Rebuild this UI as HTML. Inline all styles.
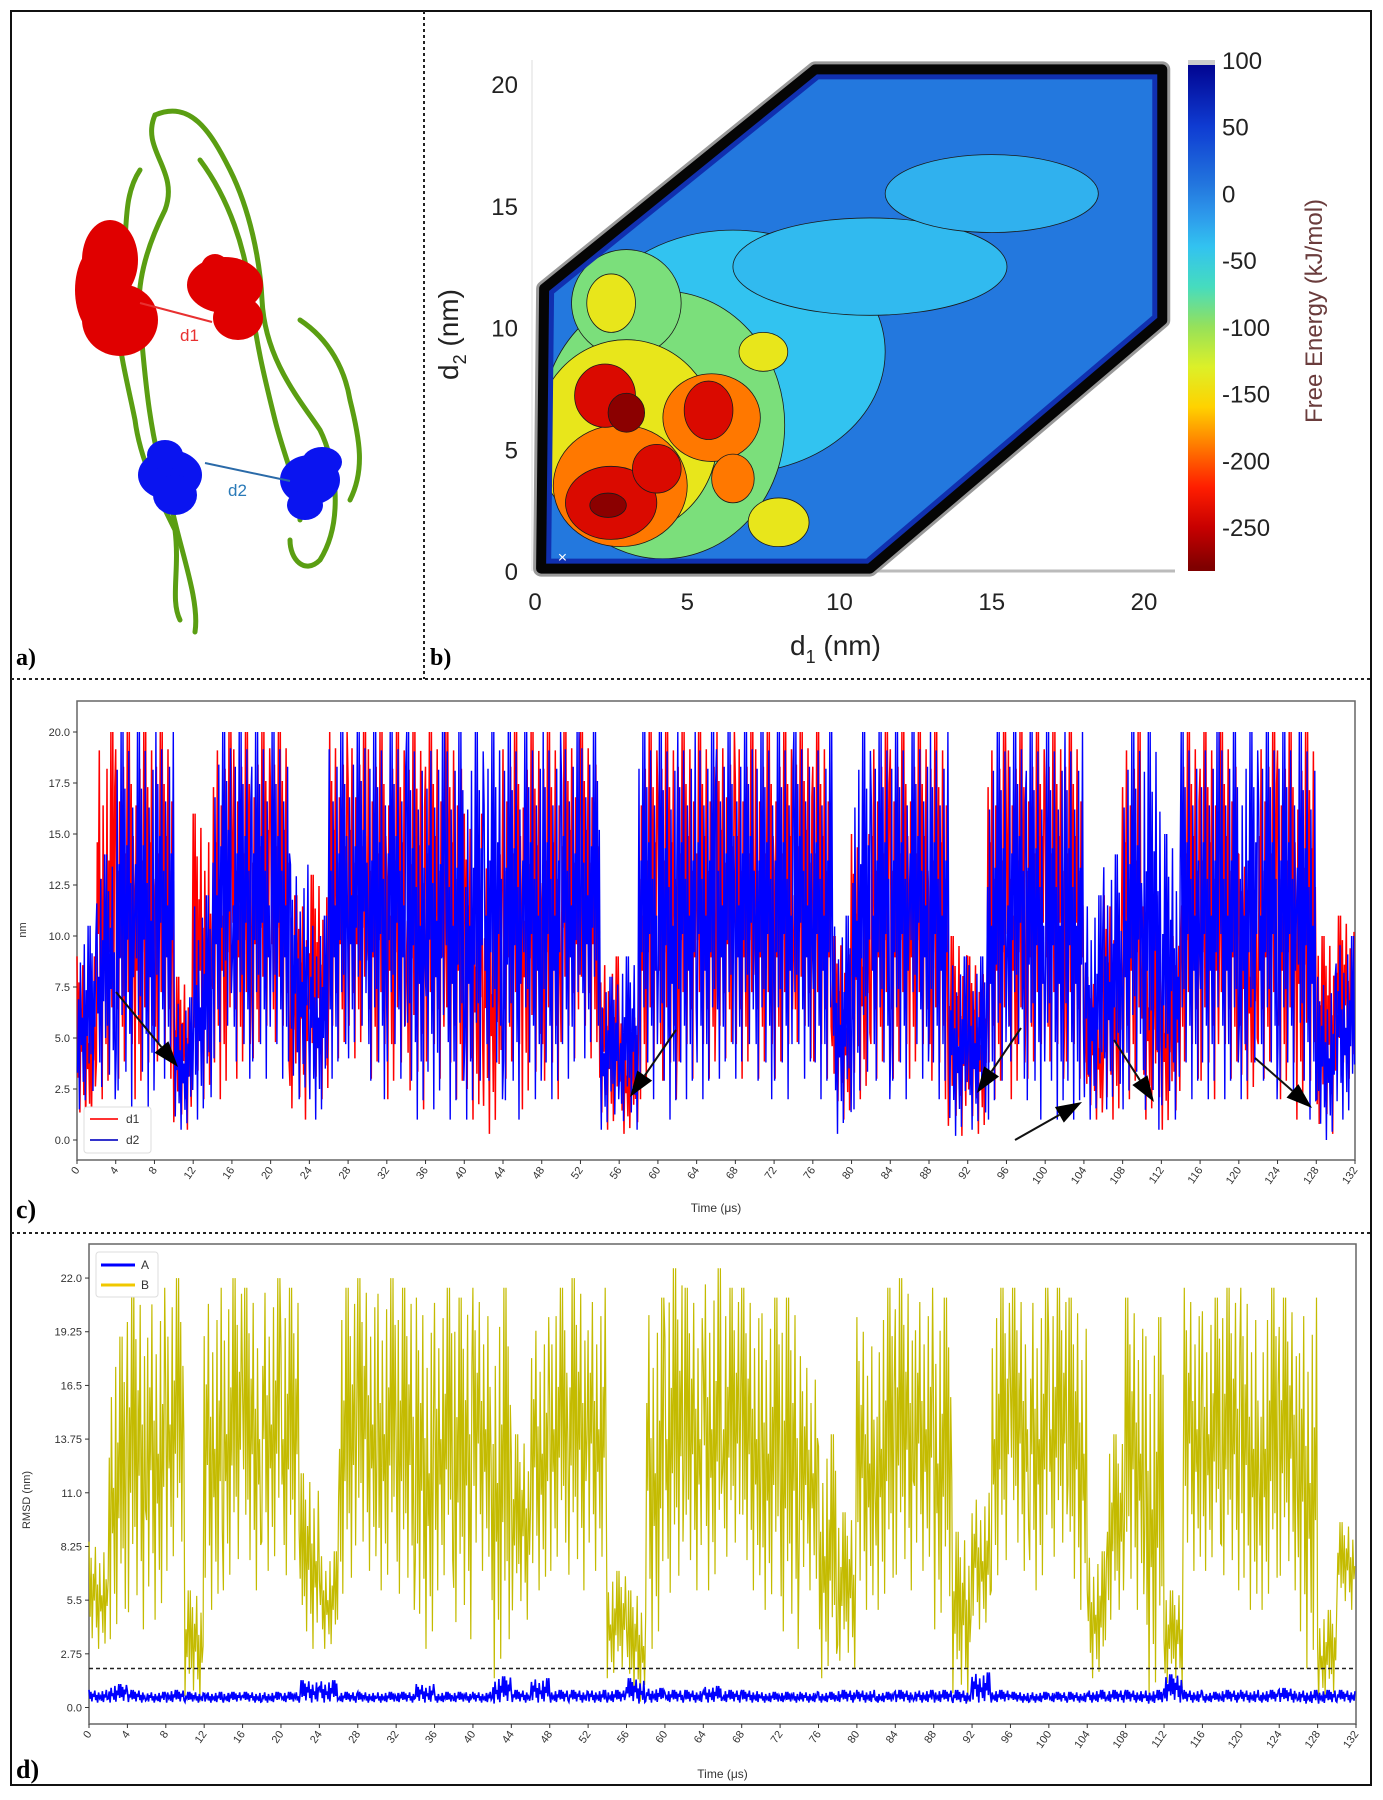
<!DOCTYPE html>
<html><head><meta charset="utf-8"><style>
html,body{margin:0;padding:0;background:#fff;}
svg{display:block;font-family:"Liberation Sans",sans-serif;}
</style></head><body>
<svg id="fig" width="1383" height="1800" viewBox="0 0 1383 1800" xmlns="http://www.w3.org/2000/svg">
<rect x="11" y="11" width="1360" height="1774" fill="#fff" stroke="#111" stroke-width="2"/>
<line x1="11" y1="679" x2="1371" y2="679" stroke="#222" stroke-width="2" stroke-dasharray="3,3"/>
<line x1="11" y1="1233" x2="1371" y2="1233" stroke="#222" stroke-width="2" stroke-dasharray="3,3"/>
<line x1="424" y1="11" x2="424" y2="679" stroke="#222" stroke-width="2" stroke-dasharray="3,3"/>

<!-- panel a -->
<g fill="none" stroke="#5a9e12" stroke-width="5" stroke-linecap="round">
<path d="M155 115 C140 150 180 170 165 210 C150 240 135 280 140 320 C145 380 150 440 170 500 C180 550 200 600 195 632"/>
<path d="M155 115 C190 100 210 130 230 170 C250 210 260 260 262 300 C265 360 300 400 320 430 C335 460 345 520 320 560 C305 575 290 560 290 540"/>
<path d="M140 170 C120 200 130 240 120 270 C110 320 125 370 135 420 C140 460 160 500 175 530 C180 570 170 600 180 620"/>
<path d="M200 160 C230 200 245 250 250 290 C255 340 265 380 275 420 C285 460 300 490 300 520"/>
<path d="M300 320 C330 340 345 370 350 400 C360 440 365 470 350 500"/>
</g>
<g fill="#e00000">
<ellipse cx="110" cy="260" rx="28" ry="40"/><ellipse cx="120" cy="320" rx="38" ry="36"/><ellipse cx="100" cy="290" rx="25" ry="45"/>
<ellipse cx="225" cy="285" rx="38" ry="28"/><ellipse cx="238" cy="318" rx="25" ry="22"/><ellipse cx="215" cy="268" rx="14" ry="14"/>
</g>
<line x1="140" y1="303" x2="212" y2="322" stroke="#e83030" stroke-width="2"/>
<text x="180" y="341" font-size="17" fill="#e83030">d1</text>
<g fill="#0a14f0">
<ellipse cx="170" cy="475" rx="32" ry="25"/><ellipse cx="175" cy="495" rx="22" ry="20"/><ellipse cx="165" cy="455" rx="18" ry="15"/>
<ellipse cx="310" cy="480" rx="30" ry="25"/><ellipse cx="305" cy="505" rx="18" ry="15"/><ellipse cx="322" cy="462" rx="20" ry="15"/>
</g>
<line x1="205" y1="463" x2="290" y2="481" stroke="#2a6aa8" stroke-width="2"/>
<text x="228" y="496" font-size="17" fill="#2a7ab8">d2</text>
<text x="16" y="665" font-size="24" font-family="Liberation Serif,serif" font-weight="bold">a)</text>

<!-- panel b -->
<g id="pb"></g>
<text x="430" y="665" font-size="24" font-family="Liberation Serif,serif" font-weight="bold">b)</text>

<!-- panel c -->
<g id="pc"></g>
<text x="16" y="1218" font-size="26" font-family="Liberation Serif,serif" font-weight="bold">c)</text>

<!-- panel d -->
<g id="pd"></g>
<text x="16" y="1778" font-size="26" font-family="Liberation Serif,serif" font-weight="bold">d)</text>
</svg>
<script>
// ---------- panel c data (per 2 µs bin) ----------
const cBins = 66;
const d1Hi = [9,20,20,20,20,8,16,20,20,20,20,12,13,20,20,20,20,20,20,20,16,14,20,20,20,20,20,9,6,20,20,20,20,20,20,20,20,20,20,10,15,20,20,20,20,10,9,20,20,20,20,20,8,12,20,12,10,20,20,20,14,20,20,20,10,11];
const d1Lo = [0.5,2,3,2,3,0.5,2,2,3,4,4,1,2,4,4,3,2,1.5,3,2,1,0.3,3,1.5,2,4,4,0.5,0.3,2,2,3,3,4,3,3,3,4,3,1,2,3,3,3,2,0.2,0.3,2,2,3,3,3,1,1,2,1,0.5,3,2,3,2,3,2,1,0.3,3];
const d2Hi = [10.5,14,20,20,20,7,12,20,20,20,20,13.5,11,20,20,20,20,20,20,20,20,20,20,20,20,20,20,8,9,20,20,20,20,20,20,20,20,20,20,11,20,20,20,20,20,9,9,20,20,20,20,20,12,14,20,20,15,20,20,20,20,20,20,20,8,10];
const d2Lo = [1.5,2,1.5,1.5,3,0.5,1,4,3,3,3,2,1,3,4,2,3,1,1.5,1,1,2,1,2,2,3,4,0.5,0.5,2,1,2,2,3,3,2,2,3,2,0.3,1.5,2,2,3,2,0.2,0.5,1,3,1,1,1,1,1.5,1.5,0.5,1,2,2,2,2,2,2,1,0,1];
const cXTicks = [0,4,8,12,16,20,24,28,32,36,40,44,48,52,56,60,64,68,72,76,80,84,88,92,96,100,104,108,112,116,120,124,128,132];
const cYTicks = [0,2.5,5,7.5,10,12.5,15,17.5,20];
// ---------- panel d data ----------
const bHi = [8.5,19,21.5,21.5,22,6,21.5,22,21.5,22,21.5,12,8,21.5,22,22,21.5,21,21.5,21,21.5,21.5,14,20,21.5,22,21.5,7,6,21,22.5,21.5,22.5,21.5,21.5,21,21,18,14,10,20,21.5,22,21.5,21,9,11,21.5,21.5,21.5,21.5,21,8,14,21,20,6,21.5,21,21.5,21.5,21.5,21,21,5,9.5];
const bLo = [3,3.5,4,4.5,7,0.3,5,6,6,7,6,3,3,5,7,6,5,3,6,3.5,7,1.5,4.5,6,7,6,7,1.5,0.3,3,5,6,6,7,6,5,3,6,1.5,2,5,5,6,7,4,0.3,4,6,7,6,7,5,1.5,4,5,0.3,1,7,7,6,5,5,6,2,0.3,5];
const aHi = [0.9,1.2,0.9,0.8,0.9,0.8,0.8,0.8,0.8,0.8,0.8,1.4,1.4,0.8,0.8,0.8,0.8,1.2,0.8,0.8,0.8,1.6,0.9,1.5,0.9,0.9,0.9,0.9,1.5,1.0,0.9,0.9,1.1,0.9,0.9,0.8,0.8,0.8,0.8,0.9,0.9,0.8,0.9,0.9,0.9,0.9,1.8,0.9,0.8,0.8,0.8,0.8,0.9,0.9,0.9,0.9,1.7,0.9,0.8,0.9,0.9,0.9,1.0,0.9,0.9,0.9];
const aLo = [0.25,0.25,0.25,0.25,0.25,0.25,0.25,0.25,0.25,0.25,0.25,0.25,0.25,0.25,0.25,0.25,0.25,0.25,0.25,0.25,0.25,0.2,0.25,0.25,0.25,0.25,0.25,0.25,0.2,0.25,0.25,0.25,0.25,0.25,0.25,0.25,0.25,0.25,0.25,0.25,0.25,0.25,0.25,0.25,0.25,0.2,0.25,0.25,0.25,0.25,0.25,0.25,0.25,0.25,0.25,0.2,0.25,0.25,0.25,0.25,0.25,0.25,0.25,0.2,0.2,0.25];
const dYTicks = [0,2.75,5.5,8.25,11,13.75,16.5,19.25,22];
const threshold = [2.0];
// ---------- panel b data ----------
const cbTicks = [100,50,0,-50,-100,-150,-200,-250];
const axTicks = [0,5,10,15,20];
const hexD1 = [0.2,11,20.6,20.6,9.2,0.3];
const hexD2 = [0.1,0.1,10.3,20.6,20.6,11.6];
const blobD1 = [6.5,11,15,4.2,3,3,2.5,7.5,8,5.8,2.8,6.5,2.3,5.7,2.5,4,3,2.4];
const blobD2 = [9,12.5,15.5,6,11,5.5,11,9,2,6.3,3.5,3.8,7.2,6.6,2.8,4.2,6.5,2.7];
const blobRx = [5,4.5,3.5,4,1.8,3,0.8,0.8,1,1.6,2.2,0.7,1,0.8,1.5,0.8,0.6,0.6];
const blobRy = [5,2,1.6,5.5,2.2,4,1.2,0.8,1,1.8,2.5,1,1.3,1.2,1.5,1,0.8,0.5];
const blobVal = [-40,-35,-30,-90,-90,-140,-140,-140,-140,-190,-190,-190,-240,-240,-240,-240,-275,-275];
const bgVal = [5];

const NS="http://www.w3.org/2000/svg";
function mk(tag,attrs,parent){const e=document.createElementNS(NS,tag);for(const k in attrs)e.setAttribute(k,attrs[k]);parent.appendChild(e);return e;}
const tex=[1,0.3,0.85,0.1,0.7,0.45,0.95,0.2,0.6,0.0,0.8,0.35,0.5,0.15,0.9,0.05,0.65,0.4,1,0.25];

// ===== panel c =====
(function(){
 const g=document.getElementById('pc');
 const L=77,R=1355,T=701,B=1160;
 const xs=t=>L+t*(R-L)/132, ys=v=>1140-v*20.4;
 const frame=mk('rect',{x:L,y:T,width:R-L,height:B-T,fill:'#fff',stroke:'#666','stroke-width':1.5},g);
 
 
 function series(hi,lo,color,off,name,w){
  let pts=[];const n=20;
  for(let k=0;k<cBins;k++){for(let j=0;j<n;j++){const t=k*2+j*2/n+off;const f=tex[(j+k*3+(off>0?7:0))%20];pts.push(xs(Math.min(t,132)).toFixed(1)+','+ys(lo[k]+(hi[k]-lo[k])*f).toFixed(1));}}
  const p=mk('polyline',{points:pts.join(' '),fill:'none',stroke:color,'stroke-width':w},g);
  
  
 }
 series(d1Hi,d1Lo,'#ff0000',0,'d1-series',1.5);
 series(d2Hi,d2Lo,'#0000ff',0.05,'d2-series',1.4);
 cYTicks.forEach(v=>{mk('line',{x1:L-4,x2:L,y1:ys(v),y2:ys(v),stroke:'#333'},g);
  const t=mk('text',{x:L-7,y:ys(v)+4,'font-size':11,'text-anchor':'end',fill:'#333'},g);t.textContent=v.toFixed(1);
  
  });
 cXTicks.forEach(v=>{mk('line',{x1:xs(v),x2:xs(v),y1:B,y2:B+4,stroke:'#333'},g);
  const t=mk('text',{x:xs(v)+3,y:B+10,'font-size':11,'text-anchor':'end',fill:'#333',transform:`rotate(-55 ${xs(v)+3} ${B+10})`},g);t.textContent=v;
  
  });
 const xl=mk('text',{x:(L+R)/2,y:1212,'font-size':12,'text-anchor':'middle',fill:'#333'},g);xl.textContent='Time (μs)';
 
 
 const yl=mk('text',{x:26,y:930,'font-size':11,'text-anchor':'middle',fill:'#333',transform:'rotate(-90 26 930)'},g);yl.textContent='nm';
 
 
 const arrows=[[116,992,178,1067],[676,1030,630,1097],[1021,1028,977,1093],[1015,1140,1082,1102],[1114,1040,1154,1102],[1255,1058,1312,1108]];
 arrows.forEach(a=>{const [x1,y1,x2,y2]=a;const dx=x2-x1,dy=y2-y1,l=Math.hypot(dx,dy),ux=dx/l,uy=dy/l;
  const bx=x2-ux*26,by=y2-uy*26;
  const ln=mk('line',{x1,y1,x2:bx,y2:by,stroke:'#111','stroke-width':2},g);
  
  
  mk('polygon',{points:`${x2},${y2} ${bx-uy*9},${by+ux*9} ${bx+uy*9},${by-ux*9}`,fill:'#000'},g);});
 const lg=mk('g',{},g);
 mk('rect',{x:84,y:1107,width:67,height:46,fill:'#fff',stroke:'#ddd',rx:3},lg);
 mk('line',{x1:90,x2:118,y1:1119,y2:1119,stroke:'#f33','stroke-width':2},lg);
 mk('line',{x1:90,x2:118,y1:1140,y2:1140,stroke:'#33c','stroke-width':2},lg);
 let t1=mk('text',{x:126,y:1123,'font-size':12,fill:'#333'},lg);t1.textContent='d1';
 
 let t2=mk('text',{x:126,y:1144,'font-size':12,fill:'#333'},lg);t2.textContent='d2';
 
})();

// ===== panel d =====
(function(){
 const g=document.getElementById('pd');
 const L=89,R=1356,T=1244,B=1724;
 const xs=t=>L+t*(R-L)/132, ys=v=>1707.5-v*19.52;
 const fr=mk('rect',{x:L,y:T,width:R-L,height:B-T,fill:'#fff',stroke:'#666','stroke-width':1.5},g);
 
 function series(hi,lo,color,n,w,name){
  let pts=[];
  for(let k=0;k<cBins;k++){for(let j=0;j<n;j++){const t=k*2+j*2/n;const f=tex[(j+k*7)%20];pts.push(xs(t).toFixed(1)+','+ys(lo[k]+(hi[k]-lo[k])*f).toFixed(1));}}
  const p=mk('polyline',{points:pts.join(' '),fill:'none',stroke:color,'stroke-width':w},g);
  
 }
 series(bHi,bLo,'#c4bb00',18,1.2,'series-b');
 series(aHi,aLo,'#0000ff',20,1.6,'series-a');
 const th=mk('line',{x1:L,x2:R,y1:ys(threshold[0]),y2:ys(threshold[0]),stroke:'#222','stroke-width':1.5,'stroke-dasharray':'4,3'},g);
 
 dYTicks.forEach(v=>{mk('line',{x1:L-4,x2:L,y1:ys(v),y2:ys(v),stroke:'#333'},g);
  const t=mk('text',{x:L-7,y:ys(v)+4,'font-size':11,'text-anchor':'end',fill:'#333'},g);t.textContent=(v%1===0?v.toFixed(1):String(v));
  });
 cXTicks.forEach(v=>{mk('line',{x1:xs(v),x2:xs(v),y1:B,y2:B+4,stroke:'#333'},g);
  const t=mk('text',{x:xs(v)+3,y:B+10,'font-size':11,'text-anchor':'end',fill:'#333',transform:`rotate(-55 ${xs(v)+3} ${B+10})`},g);t.textContent=v;
  });
 const xl=mk('text',{x:(L+R)/2,y:1778,'font-size':12,'text-anchor':'middle',fill:'#333'},g);xl.textContent='Time (μs)';
 
 const yl=mk('text',{x:30,y:1500,'font-size':11,'text-anchor':'middle',fill:'#333',transform:'rotate(-90 30 1500)'},g);yl.textContent='RMSD (nm)';
 
 const lg=mk('g',{},g);
 mk('rect',{x:96,y:1252,width:62,height:45,fill:'#fff',stroke:'#ddd',rx:3},lg);
 mk('line',{x1:101,x2:135,y1:1265,y2:1265,stroke:'#0000ff','stroke-width':3},lg);
 mk('line',{x1:101,x2:135,y1:1285,y2:1285,stroke:'#f0c800','stroke-width':3},lg);
 let a=mk('text',{x:141,y:1269,'font-size':12,fill:'#333'},lg);a.textContent='A';
 
 let b=mk('text',{x:141,y:1289,'font-size':12,fill:'#333'},lg);b.textContent='B';
 
})();

// ===== panel b =====
(function(){
 const g=document.getElementById('pb');
 const xs=d=>535+d*30.45, ys=d=>571-d*24.35;
 const stops=[[-283,[120,0,0]],[-250,[200,0,0]],[-220,[255,30,0]],[-190,[255,120,0]],[-160,[255,210,0]],[-130,[220,240,40]],[-100,[150,225,90]],[-70,[70,220,190]],[-40,[50,195,240]],[-15,[45,150,235]],[5,[35,120,222]],[50,[15,60,210]],[100,[0,0,140]]];
 function col(v){for(let i=1;i<stops.length;i++){if(v<=stops[i][0]){const a=stops[i-1],b=stops[i];const f=Math.max(0,(v-a[0])/(b[0]-a[0]));const c=a[1].map((x,k)=>Math.round(x+(b[1][k]-x)*f));return `rgb(${c})`;}}return 'rgb(0,0,140)';}
 const hex=hexD1.map((d,i)=>xs(d)+','+ys(hexD2[i])).join(' ');
 const defs=mk('defs',{},g);const cp=mk('clipPath',{id:'hexclip'},defs);mk('polygon',{points:hex},cp);
 mk('line',{x1:535,y1:571,x2:1175,y2:571,stroke:'#bbb','stroke-width':3},g);
 mk('line',{x1:532,y1:60,x2:532,y2:571,stroke:'#ddd','stroke-width':1},g);
 const outer=mk('polygon',{points:hex,fill:'none',stroke:'#999','stroke-width':16,'stroke-linejoin':'round'},g);
 
 const ib=mk('g',{'clip-path':'url(#hexclip)'},g);
 const bg=mk('polygon',{points:hex,fill:col(bgVal[0])},ib);
 
 blobVal.forEach((v,i)=>{const e=mk('ellipse',{cx:xs(blobD1[i]),cy:ys(blobD2[i]),rx:blobRx[i]*30.45,ry:blobRy[i]*24.35,fill:col(v),stroke:'#1a1a1a','stroke-width':0.8},ib);
  });
 mk('polygon',{points:hex,fill:'none',stroke:'#1030b0','stroke-width':20},ib);
 const edge=mk('polygon',{points:hex,fill:'none',stroke:'#050505','stroke-width':10,'stroke-linejoin':'round'},g);
 
 const x=mk('text',{x:xs(0.9),y:ys(0.6)+6,'font-size':16,fill:'#fff','text-anchor':'middle'},g);x.textContent='×';
 
 axTicks.forEach(v=>{const t=mk('text',{x:xs(v),y:610,'font-size':24,'text-anchor':'middle',fill:'#222'},g);t.textContent=v;
  
  const u=mk('text',{x:518,y:ys(v)+9,'font-size':24,'text-anchor':'end',fill:'#222'},g);u.textContent=v;
  });
 const xl=mk('text',{x:790,y:655,'font-size':28,fill:'#222'},g);xl.innerHTML='d<tspan font-size="18" dy="8">1</tspan><tspan dy="-8"> (nm)</tspan>';
 
 const yl=mk('text',{x:458,y:380,'font-size':28,fill:'#222',transform:'rotate(-90 458 380)'},g);yl.innerHTML='d<tspan font-size="18" dy="8">2</tspan><tspan dy="-8"> (nm)</tspan>';
 
 const cbT=60,cbB=571,cbv=v=>cbT+(100-v)*(cbB-cbT)/383;
 const lgd=mk('linearGradient',{id:'cbg',x1:0,y1:0,x2:0,y2:1},defs);
 for(let v=100;v>=-283;v-=10){mk('stop',{offset:((100-v)/383).toFixed(3),'stop-color':col(v)},lgd);}
 const cb=mk('rect',{x:1188,y:cbT,width:27,height:cbB-cbT,fill:'url(#cbg)'},g);
 
 mk('rect',{x:1188,y:cbT,width:27,height:5,fill:'#ccc'},g);
 cbTicks.forEach(v=>{const t=mk('text',{x:1222,y:cbv(v)+9,'font-size':24,fill:'#222'},g);t.textContent=v;
  });
 const cl=mk('text',{x:1322,y:311,'font-size':24,fill:'#6a3c3c','text-anchor':'middle',transform:'rotate(-90 1322 311)'},g);cl.textContent='Free Energy (kJ/mol)';
 
})();
</script>
</body></html>
